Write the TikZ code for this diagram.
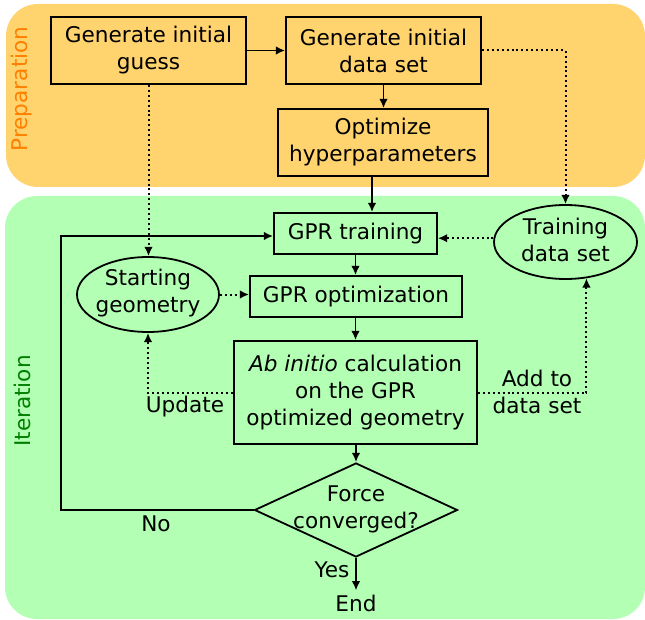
\documentclass[tikz,border=0pt]{standalone}
\usepackage{fontspec}
\setmainfont{DejaVu Sans}
\usetikzlibrary{shapes.geometric,arrows.meta}

\definecolor{prepfill}{RGB}{255,211,110}
\definecolor{iterfill}{RGB}{179,255,179}
\definecolor{preptext}{RGB}{255,128,0}
\definecolor{itertext}{RGB}{0,128,0}

\tikzset{
  procbox/.style={draw, line width=1.35pt, inner sep=0pt, align=center},
  roundbox/.style={ellipse, draw, line width=1.35pt, inner sep=0pt},
  decbox/.style={diamond, draw, line width=1.35pt, inner sep=0pt},
  lbl/.style={align=center, inner sep=1pt},
  flow/.style={line width=1.35pt, -{Latex[length=7pt,width=6.5pt]}},
  dataflow/.style={line width=1.5pt, dash pattern=on 1.5pt off 2.2pt,
                   -{Latex[length=7pt,width=6.5pt]}},
  loopline/.style={line width=1.35pt, -{Latex[length=7pt,width=6.5pt]}},
}

\begin{document}
\begin{tikzpicture}[x=0.75pt, y=-0.75pt,
    font=\fontsize{16.2pt}{20.25pt}\selectfont]
  \useasboundingbox (0,0) rectangle (645,620);

  % stage panels
  \fill[prepfill, rounded corners=24pt] (6,4) rectangle (645,187);
  \fill[iterfill, rounded corners=24pt] (5,196) rectangle (645,619);
  \node[rotate=90, text=preptext] (preplabel) at (22,89) {Preparation};
  \node[rotate=90, text=itertext] (iterlabel) at (22,401) {Iteration};

  % preparation stage
  \node[procbox, minimum width=195*0.75pt, minimum height=67*0.75pt]
    (guess) at (148.5,50.5) {Generate initial\\guess};
  \node[procbox, minimum width=195*0.75pt, minimum height=67*0.75pt]
    (gendata) at (383.5,50.5) {Generate initial\\data set};
  \node[procbox, minimum width=210*0.75pt, minimum height=67*0.75pt]
    (hyper) at (383,142.5) {Optimize\\hyperparameters};

  % iteration stage
  \node[procbox, minimum width=163*0.75pt, minimum height=41*0.75pt]
    (train) at (355.5,233.5) {GPR training};
  \node[procbox, minimum width=212*0.75pt, minimum height=41*0.75pt]
    (gpropt) at (356,296.5) {GPR optimization};
  \node[procbox, minimum width=243*0.75pt, minimum height=103*0.75pt]
    (abinit) at (355.5,392.5) {\textit{Ab initio} calculation\\on the GPR\\optimized geometry};
  \node[decbox, minimum width=203*0.75pt, minimum height=94*0.75pt]
    (conv) at (356,510) {};
  \node[lbl] (convtext) at (356,509) {Force\\converged?};

  \node[roundbox, minimum width=142*0.75pt, minimum height=75*0.75pt]
    (start) at (148,294.5) {};
  \node[lbl] (starttext) at (148,293) {Starting\\geometry};
  \node[roundbox, minimum width=143*0.75pt, minimum height=74*0.75pt]
    (tds) at (565.5,242) {};
  \node[lbl] (tdstext) at (565.5,240) {Training\\data set};

  \node[inner sep=3pt] (finish) at (356,603) {End};

  % solid flow
  \draw[flow] (guess) -- (gendata);
  \draw[flow] (gendata.south) -- (gendata.south |- hyper.north);
  \draw[flow] (hyper.south -| 372,0) -- (train.north -| 372,0);
  \draw[flow] (train.south) -- (train.south |- gpropt.north);
  \draw[flow] (gpropt.south -| abinit.north) -- (abinit.north);
  \draw[flow] (abinit.south -| conv.north) -- (conv.north);
  \draw[flow] (conv.south) -- (finish.north);
  \coordinate (loopcorner) at (61,236);
  \draw[loopline] (conv.west) -- (conv.west -| loopcorner) -- (loopcorner)
    -- (loopcorner -| train.west);

  % data flow
  \draw[dataflow] (guess.south) -- (guess.south |- start.north);
  \draw[dataflow] (gendata.east) -- (gendata.east -| tds.north) -- (tds.north);
  \draw[dataflow] (tds.177) -- (tds.177 -| train.east);
  \draw[dataflow] (start.east) -- (start.east -| gpropt.west);
  \draw[dataflow] (abinit.west) -- (abinit.west -| start.south) -- (start.south);
  \draw[dataflow] (abinit.east) -- (abinit.east -| tds.-60) -- (tds.-60);

  % edge labels
  \node[lbl] (updlabel) at (185,407) {Update};
  \node[lbl] (addlabel) at (537,392) {Add to\\data set};
  \node[lbl] (nolabel) at (156,524) {No};
  \node[lbl] (yeslabel) at (332,570) {Yes};
\end{tikzpicture}
\end{document}
